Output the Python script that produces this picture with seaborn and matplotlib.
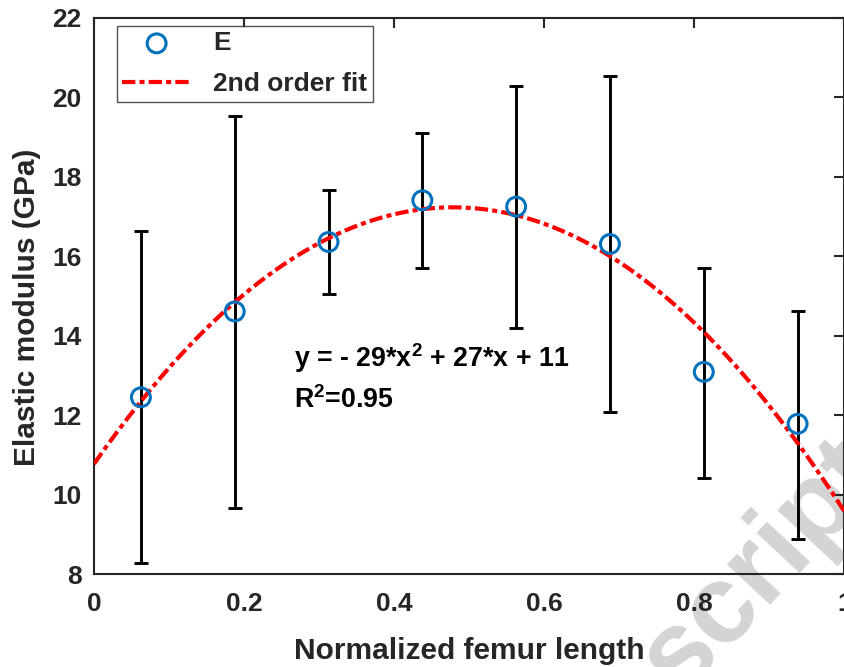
import numpy as np
import pandas as pd
import matplotlib
matplotlib.use("Agg")
import matplotlib.pyplot as plt
import seaborn as sns

# values
femur_pos = [0.0625, 0.1875, 0.3125, 0.4375, 0.5625, 0.6875, 0.8125, 0.9375]
modulus = [12.45, 14.61, 16.36, 17.41, 17.25, 16.31, 13.09, 11.78]
err_upper = [16.64, 19.52, 17.68, 19.10, 20.30, 20.55, 15.71, 14.62]
err_lower = [8.28, 9.66, 15.04, 15.70, 14.19, 12.09, 10.41, 8.89]
x_ticks = [0, 0.2, 0.4, 0.6, 0.8, 1]
y_ticks = [8, 10, 12, 14, 16, 18, 20, 22]

sns.set_style("white")
plt.rcParams["font.family"] = ["Liberation Sans", "DejaVu Sans"]
plt.rcParams["font.weight"] = "bold"
plt.rcParams["mathtext.default"] = "regular"

df = pd.DataFrame({"x": femur_pos, "E": modulus})

# 2nd order polynomial fit of the mean values
coef = np.polyfit(femur_pos, modulus, 2)
fit_x = np.linspace(0, 1, 200)
fit_df = pd.DataFrame({"x": fit_x, "y": np.polyval(coef, fit_x)})

fig = plt.figure(figsize=(8.45, 6.67), dpi=100)
ax = fig.add_axes([94 / 845, 1 - 574 / 667, 750.5 / 845, 556 / 667])

# watermark fragment in the lower right corner, behind the axes
fig.text(0.902, 0.150, "script", rotation=47, fontsize=80, fontweight="bold",
         color="#d4d4d4", ha="center", va="center", zorder=-1)
ax.set_facecolor("none")

yerr = [np.array(modulus) - np.array(err_lower), np.array(err_upper) - np.array(modulus)]
ax.errorbar(femur_pos, modulus, yerr=yerr, fmt="none", ecolor="black",
            elinewidth=2.1, capsize=4.7, capthick=2.1, zorder=2)

sns.lineplot(data=fit_df, x="x", y="y", ax=ax, color="#ff0000", lw=3,
             dashes=False, label="2nd order fit", zorder=3)
ax.lines[-1].set_dashes([3.2, 1.0, 1.2, 1.0])

sns.scatterplot(data=df, x="x", y="E", ax=ax, marker="o", s=185,
                facecolors="none", edgecolor="#0072bd", linewidth=2.2,
                label="E", zorder=4)

ax.set_xlim(0, 1)
ax.set_ylim(8, 22)
ax.set_xticks(x_ticks)
ax.set_xticklabels(["0", "0.2", "0.4", "0.6", "0.8", "1"])
ax.set_yticks(y_ticks)
ax.tick_params(direction="in", length=7, width=1.5, top=True, right=True,
               labelsize=19, colors="#262626")
ax.tick_params(axis="x", pad=13)
ax.tick_params(axis="y", pad=9)
for lab in ax.get_xticklabels() + ax.get_yticklabels():
    lab.set_fontweight("bold")
for sp in ax.spines.values():
    sp.set_color("#262626")
    sp.set_linewidth(1.5)

ax.set_xlabel("Normalized femur length", fontsize=21.5, fontweight="bold",
              color="#262626", labelpad=15)
ax.set_ylabel("Elastic modulus (GPa)", fontsize=21.5, fontweight="bold",
              color="#262626")
ax.yaxis.set_label_coords(-0.071, 0.48)

ax.text(0.267, 0.372, r"y = - 29*x$^{2}$ + 27*x + 11", transform=ax.transAxes,
        fontsize=19.3, fontweight="bold", color="black")
ax.text(0.267, 0.298, r"R$^{2}$=0.95", transform=ax.transAxes,
        fontsize=19.3, fontweight="bold", color="black")

h, l = ax.get_legend_handles_labels()
order = [l.index("E"), l.index("2nd order fit")]
leg = ax.legend([h[i] for i in order], [l[i] for i in order], loc="upper left",
                bbox_to_anchor=(0.0307, 0.9856), borderaxespad=0, fontsize=19,
                frameon=True, fancybox=False, edgecolor="#262626",
                handlelength=2.6, handletextpad=0.85, borderpad=0.2,
                labelspacing=0.65)
leg.get_frame().set_linewidth(1.0)

fig.savefig("out.png", dpi=100)
